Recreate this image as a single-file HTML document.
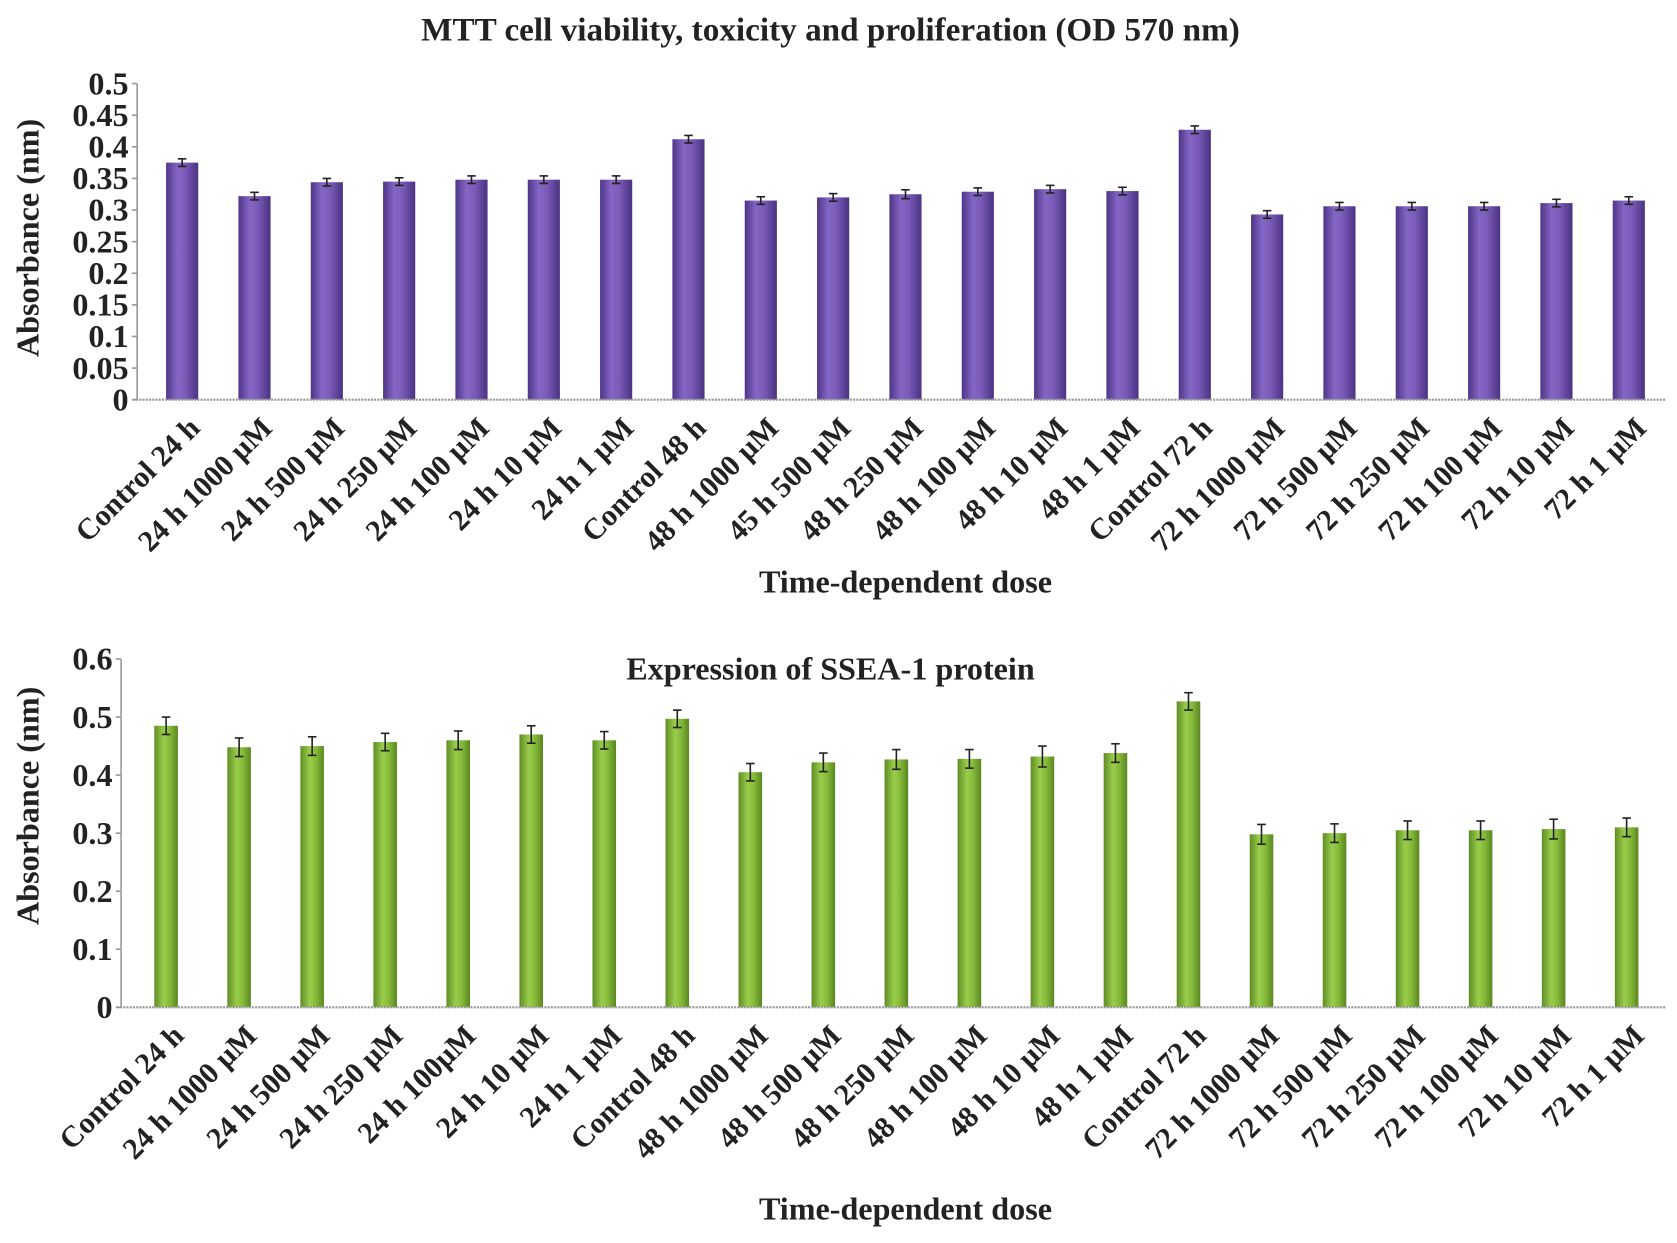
<!DOCTYPE html>
<html><head><meta charset="utf-8"><style>
html,body{margin:0;padding:0;background:#fff}
svg text{font-family:"Liberation Serif",serif;font-weight:bold;fill:#222}
</style></head><body>
<svg id="svg" width="1677" height="1238" viewBox="0 0 1565 1155.3" xmlns="http://www.w3.org/2000/svg">
<defs>
<linearGradient id="gp" x1="0" x2="1" y1="0" y2="0"><stop offset="0" stop-color="#4f3588"/><stop offset="0.35" stop-color="#8466c4"/><stop offset="0.6" stop-color="#7a5bb8"/><stop offset="1" stop-color="#4a3282"/></linearGradient>
<linearGradient id="gg" x1="0" x2="1" y1="0" y2="0"><stop offset="0" stop-color="#5f8c24"/><stop offset="0.4" stop-color="#9acd4c"/><stop offset="0.65" stop-color="#86bb3a"/><stop offset="1" stop-color="#5a8620"/></linearGradient>
</defs>
<g id="top"></g>
<g id="bot"></g>
</svg>
<script>
const catsTop=["Control 24 h","24 h 1000 µM","24 h 500 µM","24 h 250 µM","24 h 100 µM","24 h 10 µM","24 h 1 µM","Control 48 h","48 h 1000 µM","45 h 500 µM","48 h 250 µM","48 h 100 µM","48 h 10 µM","48 h 1 µM","Control 72 h","72 h 1000 µM","72 h 500 µM","72 h 250 µM","72 h 100 µM","72 h 10 µM","72 h 1 µM"];
const valsTop=[0.375,0.322,0.344,0.345,0.348,0.348,0.348,0.412,0.315,0.320,0.325,0.329,0.333,0.330,0.427,0.293,0.306,0.306,0.306,0.311,0.315];
const errTop=[0.006,0.006,0.006,0.006,0.006,0.006,0.006,0.006,0.006,0.006,0.007,0.006,0.006,0.006,0.006,0.006,0.006,0.006,0.006,0.006,0.006];
const ticksTop=["0","0.05","0.1","0.15","0.2","0.25","0.3","0.35","0.4","0.45","0.5"];
const catsBot=["Control 24 h","24 h 1000 µM","24 h 500 µM","24 h 250 µM","24 h 100µM","24 h 10 µM","24 h 1 µM","Control 48 h","48 h 1000 µM","48 h 500 µM","48 h 250 µM","48 h 100 µM","48 h 10 µM","48 h 1 µM","Control 72 h","72 h 1000 µM","72 h 500 µM","72 h 250 µM","72 h 100 µM","72 h 10 µM","72 h 1 µM"];
const valsBot=[0.485,0.448,0.450,0.457,0.460,0.470,0.460,0.497,0.405,0.422,0.427,0.428,0.432,0.438,0.527,0.298,0.300,0.305,0.305,0.307,0.310];
const errBot=[0.015,0.016,0.016,0.015,0.016,0.015,0.015,0.015,0.015,0.016,0.017,0.016,0.018,0.016,0.015,0.017,0.016,0.016,0.016,0.017,0.016];
const ticksBot=["0","0.1","0.2","0.3","0.4","0.5","0.6"];
const NS="http://www.w3.org/2000/svg";
function mk(p,t,a,txt){const e=document.createElementNS(NS,t);for(const k in a)e.setAttribute(k,a[k]);if(txt!==undefined)e.textContent=txt;p.appendChild(e);return e;}
function draw(g,o){
  const y=v=>o.y0-(v/o.ymax)*(o.y0-o.yTop);
  const x=i=>o.x0+i*(o.x1-o.x0)/(o.cats.length-1);
  let t=mk(g,'text',{x:o.titleX,y:o.titleY,'text-anchor':'middle','font-size':o.titleSize},o.title);
  
  
  let ax=mk(g,'line',{x1:o.ax,y1:o.yTop,x2:o.ax,y2:o.y0,stroke:'#999','stroke-width':1.5});
  
  
  o.ticks.forEach((s,i)=>{const v=parseFloat(s);
    mk(g,'line',{x1:o.ax-5,x2:o.ax,y1:y(v),y2:y(v),stroke:'#999','stroke-width':1.5});
    const tl=mk(g,'text',{x:o.ax-8,y:y(v)+10,'text-anchor':'end','font-size':30},s);
    
    });
  o.cats.forEach((c,i)=>{const cx=x(i),v=o.vals[i],e=o.err[i];
    const b=mk(g,'rect',{x:cx-o.bw/2,y:y(v),width:o.bw,height:o.y0-y(v),fill:o.fill});
    
    
    mk(g,'line',{x1:cx,x2:cx,y1:y(v+e),y2:y(v-e),stroke:'#222','stroke-width':1.5});
    mk(g,'line',{x1:cx-4,x2:cx+4,y1:y(v+e),y2:y(v+e),stroke:'#222','stroke-width':1.5});
    mk(g,'line',{x1:cx-4,x2:cx+4,y1:y(v-e),y2:y(v-e),stroke:'#222','stroke-width':1.5});
    const l=mk(g,'text',{'text-anchor':'end','font-size':28,transform:`translate(${cx+18},${o.y0+28}) rotate(-45)`},c);
    
    });
  let bl=mk(g,'line',{x1:o.ax-4,y1:o.y0,x2:1555,y2:o.y0,stroke:'#999','stroke-width':2,'stroke-dasharray':'2,1'});
  
  
  let xt=mk(g,'text',{x:845,y:o.xtY,'text-anchor':'middle','font-size':30},'Time-dependent dose');
  
  
  let yt=mk(g,'text',{'text-anchor':'middle','font-size':30,transform:`translate(${o.ytX},${o.ytY}) rotate(-90)`},'Absorbance (nm)');
  
  
}
draw(document.getElementById('top'),{cats:catsTop,vals:valsTop,err:errTop,ticks:ticksTop,ymax:0.5,y0:373,yTop:78,ax:128,x0:170,x1:1520,bw:30,fill:'url(#gp)',title:'MTT cell viability, toxicity and proliferation (OD 570 nm)',titleSize:31,titleX:775,titleY:38,xtY:553,ytX:36,ytY:222});
draw(document.getElementById('bot'),{cats:catsBot,vals:valsBot,err:errBot,ticks:ticksBot,ymax:0.6,y0:940,yTop:615,ax:113,x0:155,x1:1518,bw:22,fill:'url(#gg)',title:'Expression of SSEA-1 protein',titleSize:30,titleX:775,titleY:634,xtY:1138,ytX:36,ytY:752});
</script>
</body></html>
